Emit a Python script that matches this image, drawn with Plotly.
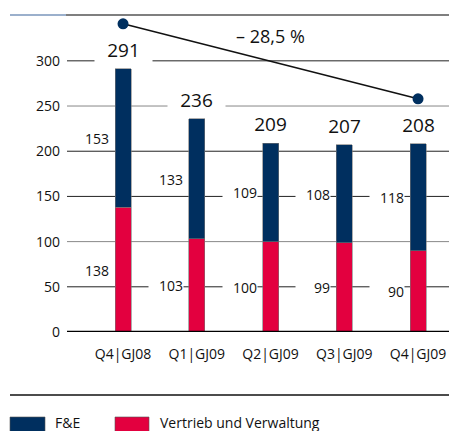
import plotly.graph_objects as go

# ---------------- data ----------------
categories = ["Q4|GJ08", "Q1|GJ09", "Q2|GJ09", "Q3|GJ09", "Q4|GJ09"]
fe_values = [153, 133, 109, 108, 118]          # F&E (top, navy)
vv_values = [138, 103, 100, 99, 90]            # Vertrieb und Verwaltung (bottom, red)
totals = [291, 236, 209, 207, 208]
series_names = ["F&E", "Vertrieb und Verwaltung"]
y_ticks = [0, 50, 100, 150, 200, 250, 300]

# ---------------- style ----------------
NAVY = "#002f5f"
RED = "#e3003f"
FONT = "Open Sans"
W, H = 449, 431
ML, MR, MT, MB = 67, 0, 15, 99
PW, PH = W - ML - MR, H - MT - MB
Y_MAX = 350.7
X_RANGE = [-0.76, 4.42]
BAR_W = 0.217

def px_x(px):
    return (px - ML) / PW

def px_y(py):
    return (H - MB - py) / PH

fig = go.Figure()

fig.add_trace(go.Bar(
    x=categories, y=vv_values, name=series_names[1],
    marker=dict(color=RED, line=dict(width=0.6, color="#777")), width=BAR_W,
))
fig.add_trace(go.Bar(
    x=categories, y=fe_values, name=series_names[0],
    marker=dict(color=NAVY, line=dict(width=0.6, color="#777")), width=BAR_W,
))

# trend line between first and last totals
offset = 50
fig.add_trace(go.Scatter(
    x=[categories[0], categories[-1]],
    y=[totals[0] + offset, totals[-1] + offset],
    mode="lines+markers",
    line=dict(color="#111", width=1.5),
    marker=dict(color=NAVY, size=11, line=dict(width=0)),
    cliponaxis=False,
))

shapes = []
# gridlines
grid_colors = {300: "#222", 250: "#888", 200: "#222", 150: "#222", 100: "#888", 50: "#222"}
for t in y_ticks:
    if t == 0:
        continue
    shapes.append(dict(type="line", xref="paper", yref="y", x0=0, x1=1, y0=t, y1=t,
                       line=dict(color=grid_colors.get(t, "#222"), width=1), layer="below"))
# zero line
shapes.append(dict(type="line", xref="paper", yref="y", x0=0, x1=1, y0=0, y1=0,
                   line=dict(color="#000", width=2.5), layer="above"))
# top rule
shapes.append(dict(type="line", xref="paper", yref="paper", x0=px_x(10), x1=px_x(66),
                   y0=px_y(15), y1=px_y(15), line=dict(color="#7a96bb", width=1.5)))
shapes.append(dict(type="line", xref="paper", yref="paper", x0=px_x(66), x1=px_x(449),
                   y0=px_y(15), y1=px_y(15), line=dict(color="#555", width=1.5)))
# bottom rule
shapes.append(dict(type="line", xref="paper", yref="paper", x0=px_x(10), x1=px_x(449),
                   y0=px_y(395), y1=px_y(395), line=dict(color="#111", width=1.5)))
# legend swatches
shapes.append(dict(type="rect", xref="paper", yref="paper", x0=px_x(10), x1=px_x(45),
                   y0=px_y(417), y1=px_y(433), fillcolor=NAVY, line=dict(width=0.6, color="#555")))
shapes.append(dict(type="rect", xref="paper", yref="paper", x0=px_x(115), x1=px_x(149),
                   y0=px_y(417), y1=px_y(433), fillcolor=RED, line=dict(width=0.6, color="#555")))

annotations = []
# totals above bars
for c, t in zip(categories, totals):
    annotations.append(dict(x=c, y=t, xref="x", yref="y", text=str(t), showarrow=False,
                            yanchor="middle", yshift=19, width=57, height=24, bgcolor="white",
                            font=dict(family=FONT, size=19, color="#111"), borderpad=0))
# segment labels to the left of bars
for i, c in enumerate(categories):
    lo, hi = vv_values[i], fe_values[i]
    for val, ymid in ((lo, lo / 2), (hi, lo + hi / 2)):
        annotations.append(dict(x=c, y=ymid, xref="x", yref="y", text=str(val), showarrow=False,
                                xanchor="right", xshift=-13, yanchor="middle", width=34, height=16,
                                align="right", bgcolor="white", borderpad=0,
                                font=dict(family=FONT, size=14, color="#111")))
# percentage change label
pct = (totals[-1] - totals[0]) / totals[0] * 100
pct_text = ("– " if pct < 0 else "+ ") + f"{abs(pct):.1f}".replace(".", ",") + " %"
annotations.append(dict(x=categories[len(categories) // 2], y=(totals[0] + totals[-1]) / 2 + offset,
                        xref="x", yref="y", text=pct_text, showarrow=False, yshift=25,
                        font=dict(family=FONT, size=18, color="#111")))
# legend text
annotations.append(dict(x=px_x(53), y=px_y(422), xref="paper", yref="paper", text=series_names[0],
                        showarrow=False, xanchor="left", yanchor="middle",
                        font=dict(family=FONT, size=14, color="#111")))
annotations.append(dict(x=px_x(158), y=px_y(422), xref="paper", yref="paper", text=series_names[1],
                        showarrow=False, xanchor="left", yanchor="middle",
                        font=dict(family=FONT, size=14, color="#111")))

fig.update_layout(
    width=W, height=H, autosize=False,
    margin=dict(l=ML, r=MR, t=MT, b=MB),
    barmode="stack", showlegend=False,
    plot_bgcolor="white", paper_bgcolor="white",
    shapes=shapes, annotations=annotations,
    xaxis=dict(type="category", range=X_RANGE, showgrid=False, zeroline=False, showline=False,
               ticks="", tickfont=dict(family=FONT, size=14, color="#111"), ticklabelstandoff=12),
    yaxis=dict(range=[0, Y_MAX], tickvals=y_ticks, showgrid=False, zeroline=False, showline=False,
               ticks="", tickfont=dict(family=FONT, size=14, color="#111"), ticklabelstandoff=6),
)

fig.write_html(
    "out.html",
    config={"displayModeBar": False},
    post_script="document.body.style.margin='0';document.body.style.overflow='hidden';",
)
